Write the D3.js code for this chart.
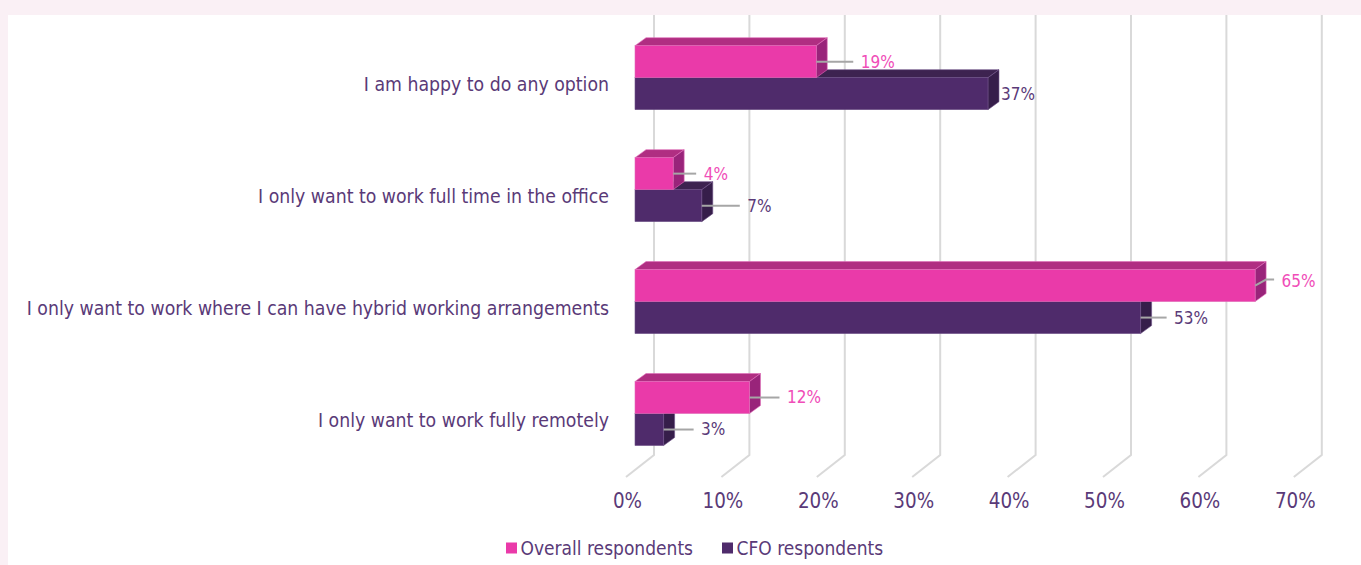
<!DOCTYPE html>
<html>
<head>
<meta charset="utf-8">
<script src="https://cdn.jsdelivr.net/npm/d3@7"></script>
<style>
  html, body { margin: 0; padding: 0; background: #faf0f5; overflow: hidden; }
  svg { display: block; }
  text { font-family: "DejaVu Sans Condensed", "DejaVu Sans", sans-serif; font-stretch: condensed; }
</style>
</head>
<body>
<div id="chart"></div>
<script>
const width = 1361;
const height = 565;

const categories = [
    "I am happy to do any option",
    "I only want to work full time in the office",
    "I only want to work where I can have hybrid working arrangements",
    "I only want to work fully remotely"
];
const overall = [19, 4, 65, 12];
const cfo = [37, 7, 53, 3];
const xTicks = [0, 10, 20, 30, 40, 50, 60, 70];
const seriesNames = ["Overall respondents", "CFO respondents"];

// leader line lengths per bar
const overallLeader = [37, 23, 19, 30];
const cfoLeader = [0, 38, 26, 30];

const pink = { front: "#ea3aa9", top: "#b02e82", side: "#99247a", line: "#e06cb8", label: "#f04db8" };
const purple = { front: "#4f2b6b", top: "#3d2350", side: "#361e4a", line: "#6f5288", label: "#5a3a78" };
const axisColor = "#5a3a78";

const svg = d3.select("#chart")
    .append("svg")
    .attr("width", width)
    .attr("height", height);

svg.append("rect")
    .attr("x", 8)
    .attr("y", 15)
    .attr("width", width - 8)
    .attr("height", height - 15)
    .attr("fill", "#fff");

// front plane of the bars
const x = d3.scaleLinear().domain([0, 70]).range([635, 635 + 70 * 9.54]);
const y = d3.scaleBand().domain(categories).range([21.7, 469.5]);
const barH = 32;

// depth offsets: bars sit in the middle of the floor
const barDx = 11, barDy = 8;
const wallDx = 19, floorDx = 28, floorDy = 22;

// gridlines, back wall plus the slanted floor piece
const wallBottom = 455;
svg.append("g").selectAll("path")
    .data(xTicks)
    .enter()
    .append("path")
    .attr("d", d => {
        const bx = x(d) + wallDx;
        return `M${bx},15V${wallBottom}L${bx - floorDx},${wallBottom + floorDy}`;
    })
    .attr("fill", "none")
    .attr("stroke", "#d9d9d9")
    .attr("stroke-width", 2);

function drawBar(g, value, top, color) {
    const x0 = x(0), x1 = x(value);
    g.append("path")
        .attr("d", `M${x0},${top}l${barDx},${-barDy}H${x1 + barDx}l${-barDx},${barDy}Z`)
        .attr("fill", color.top)
        .attr("stroke", color.line)
        .attr("stroke-width", 0.6);
    g.append("path")
        .attr("d", `M${x1},${top}l${barDx},${-barDy}v${barH}l${-barDx},${barDy}Z`)
        .attr("fill", color.side)
        .attr("stroke", color.line)
        .attr("stroke-width", 0.6);
    g.append("rect")
        .attr("x", x0)
        .attr("y", top)
        .attr("width", x1 - x0)
        .attr("height", barH)
        .attr("fill", color.front)
        .attr("stroke", color.line)
        .attr("stroke-width", 0.6);
}

function drawLabel(g, value, leader, mid, color, bend) {
    const x1 = x(value);
    const labelY = mid + (bend ? -5 : 0);
    let endX = x1 + (leader || 13);
    if (leader) {
        const d = bend
            ? `M${x1},${mid}L${x1 + 11},${mid - 6}H${endX}`
            : `M${x1},${mid}H${endX}`;
        g.append("path")
            .attr("d", d)
            .attr("fill", "none")
            .attr("stroke", "#a6a6a6")
            .attr("stroke-width", 2);
        endX += 7.5;
    }
    g.append("text")
        .attr("x", endX)
        .attr("y", labelY)
        .attr("dy", "0.35em")
        .attr("font-size", 17)
        .attr("fill", color.label)
        .text(value + "%");
}

// back to front so the upper bar's side stays on top of the lower bar's top face
categories.forEach((c, i) => {
    const mid = y(c) + y.bandwidth() / 2;
    const g = svg.append("g");
    drawBar(g, cfo[i], mid, purple);
    drawBar(g, overall[i], mid - barH, pink);
});
categories.forEach((c, i) => {
    const mid = y(c) + y.bandwidth() / 2;
    const g = svg.append("g");
    drawLabel(g, overall[i], overallLeader[i], mid - barH / 2, pink, overall[i] === 65);
    drawLabel(g, cfo[i], cfoLeader[i], mid + barH / 2, purple, false);
});

// category axis, labels hang a little below the bar pair
const yAxis = svg.append("g")
    .attr("transform", "translate(609,7.5)")
    .call(d3.axisLeft(y).tickSize(0).tickPadding(0));
yAxis.select(".domain").remove();
yAxis.selectAll("text")
    .attr("font-size", 19.27)
    .attr("fill", axisColor)
    .style("font-family", '"DejaVu Sans Condensed", "DejaVu Sans", sans-serif');

// value axis, labels sit under the front edge of the floor
const xAxis = svg.append("g")
    .attr("transform", "translate(-8,501)")
    .call(d3.axisBottom(x).tickValues(xTicks).tickFormat(d => d + "%").tickSize(0).tickPadding(0));
xAxis.select(".domain").remove();
xAxis.selectAll("text")
    .attr("font-size", 20.4)
    .attr("dy", "0.35em")
    .attr("y", 0)
    .attr("fill", axisColor)
    .style("font-family", '"DejaVu Sans Condensed", "DejaVu Sans", sans-serif');

// legend
const legendX = d3.scaleOrdinal().domain(seriesNames).range([506, 722]);
const legendColor = d3.scaleOrdinal().domain(seriesNames).range([pink.front, purple.front]);
const legend = svg.append("g").selectAll("g")
    .data(seriesNames)
    .enter()
    .append("g")
    .attr("transform", d => `translate(${legendX(d)},548)`);
legend.append("rect")
    .attr("y", -5.5)
    .attr("width", 11)
    .attr("height", 11)
    .attr("fill", d => legendColor(d));
legend.append("text")
    .attr("x", 14.5)
    .attr("dy", "0.35em")
    .attr("font-size", 19)
    .attr("fill", axisColor)
    .text(d => d);
</script>
</body>
</html>
